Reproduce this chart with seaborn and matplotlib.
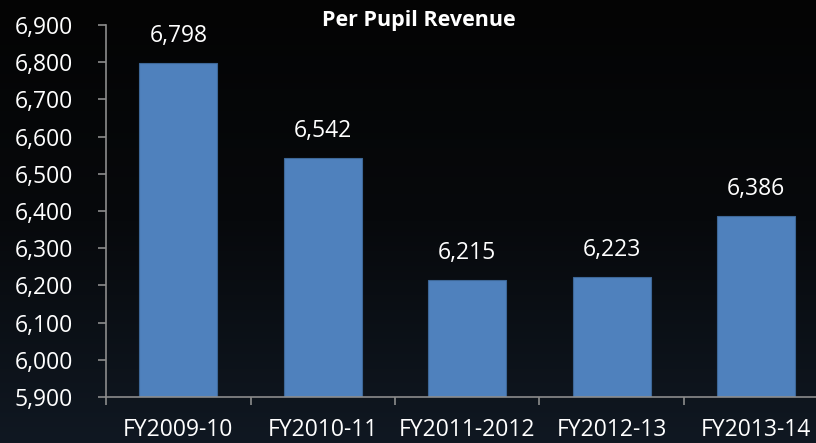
import numpy as np
import pandas as pd
import matplotlib
matplotlib.use("Agg")
import matplotlib.pyplot as plt
import seaborn as sns
from matplotlib.colors import LinearSegmentedColormap

years = ["FY2009-10", "FY2010-11", "FY2011-2012", "FY2012-13", "FY2013-14"]
revenue = [6798, 6542, 6215, 6223, 6386]

BAR_COLOR = "#4f81bd"
AXIS_COLOR = "#8c8c8c"

sns.set_style("dark")
plt.rcParams["font.family"] = ["Open Sans", "DejaVu Sans"]

df = pd.DataFrame({"year": years, "revenue": revenue})

fig = plt.figure(figsize=(8.16, 4.43), dpi=100)

# dark gradient background
bg = fig.add_axes([0, 0, 1, 1], zorder=0)
grad = np.linspace(0, 1, 256).reshape(-1, 1)
cmap = LinearSegmentedColormap.from_list("bg", ["#040404", "#07090c", "#101822"])
bg.imshow(grad, aspect="auto", cmap=cmap, extent=[0, 1, 0, 1], origin="upper")
bg.axis("off")

ax = fig.add_axes([0.130, 0.1038, 0.885, 0.8398], zorder=1)
ax.patch.set_alpha(0)

sns.barplot(data=df, x="year", y="revenue", color=BAR_COLOR, saturation=1,
            width=0.54, edgecolor="#3d6797", linewidth=0.8, ax=ax)

ax.set_ylim(5900, 6900)
ax.set_xlim(-0.5, len(years) - 0.5)
ax.set_yticks(np.arange(5900, 6901, 100))
ax.yaxis.set_major_formatter(matplotlib.ticker.FuncFormatter(lambda v, p: f"{int(v):,}"))
ax.set_xlabel("")
ax.set_ylabel("")
ax.grid(False)

for bar, val in zip(ax.patches, revenue):
    ax.annotate(f"{val:,}", (bar.get_x() + bar.get_width() / 2, val),
                xytext=(0, 11), textcoords="offset points",
                ha="center", va="bottom", color="white", fontsize=16.5)

for side in ["top", "right"]:
    ax.spines[side].set_visible(False)
for side in ["left", "bottom"]:
    ax.spines[side].set_color(AXIS_COLOR)
    ax.spines[side].set_linewidth(1.2)

ax.tick_params(axis="y", colors="white", labelsize=16.5, length=6, width=1.2,
               direction="out", color=AXIS_COLOR, left=True, pad=18)
ax.tick_params(axis="x", which="major", colors="white", labelsize=16.5, length=0, pad=15)
ax.set_xticks(np.arange(-0.5, len(years) + 0.5, 1), minor=True)
ax.tick_params(axis="x", which="minor", length=6, width=1.2, color=AXIS_COLOR,
               direction="out", bottom=True)

fig.text(0.513, 0.953, "Per Pupil Revenue", ha="center", va="center",
         color="white", fontsize=15.5, fontweight="bold")

fig.savefig("out.png", dpi=100, facecolor="black")
